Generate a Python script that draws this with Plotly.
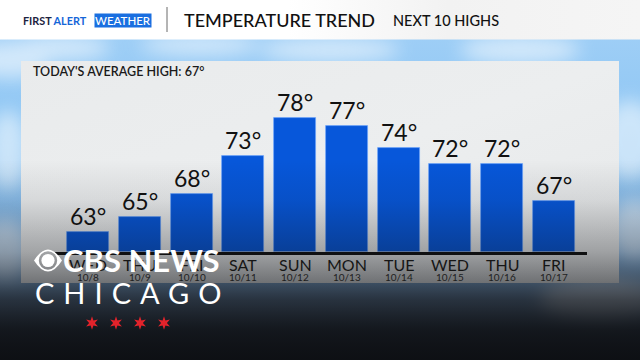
import math
import base64
import plotly.graph_objects as go

# ---------------- data ----------------
days = ["WED", "THU", "FRI", "SAT", "SUN", "MON", "TUE", "WED", "THU", "FRI"]
dates = ["10/8", "10/9", "10/10", "10/11", "10/12", "10/13", "10/14", "10/15", "10/16", "10/17"]
highs = [63, 65, 68, 73, 78, 77, 74, 72, 72, 67]
avg_high = 67
title = "TEMPERATURE TREND"
subtitle = "NEXT 10 HIGHS"

W, H = 640, 360
FONT = "Lato"

def py(p):  # pixel y (from top) -> paper y
    return 1 - p / H

def px(p):
    return p / W

# ---------------- background svg (sky, header, panel) ----------------
clouds = [
    (10, 60, 40, 18), (60, 48, 50, 12), (200, 45, 60, 10), (330, 50, 70, 12),
    (520, 50, 60, 14), (630, 140, 30, 40), (635, 230, 25, 30), (8, 150, 20, 40),
    (5, 250, 25, 30), (600, 300, 60, 20),
]
cloud_svg = "".join(
    f'<ellipse cx="{cx}" cy="{cy}" rx="{rx}" ry="{ry}"/>' for cx, cy, rx, ry in clouds
)
bg_svg = f'''<svg xmlns="http://www.w3.org/2000/svg" width="{W}" height="{H}" viewBox="0 0 {W} {H}">
<defs>
<linearGradient id="sky" x1="0" y1="0" x2="0" y2="1">
<stop offset="0" stop-color="#a4d1f7"/>
<stop offset="0.4" stop-color="#8cc5f3"/>
<stop offset="0.7" stop-color="#82b3e2"/>
<stop offset="0.85" stop-color="#6d8bab"/>
<stop offset="1" stop-color="#3c4650"/>
</linearGradient>
<filter id="blur" x="-60%" y="-60%" width="220%" height="220%"><feGaussianBlur stdDeviation="9"/></filter>
<linearGradient id="hdr" x1="0" y1="0" x2="1" y2="0">
<stop offset="0" stop-color="#ffffff"/>
<stop offset="0.45" stop-color="#ffffff"/>
<stop offset="0.7" stop-color="#f2f2f2"/>
<stop offset="1" stop-color="#f5f5f5"/>
</linearGradient>
<linearGradient id="panel" x1="0" y1="0" x2="1" y2="1">
<stop offset="0" stop-color="#e9ebec"/>
<stop offset="0.5" stop-color="#eceeef"/>
<stop offset="1" stop-color="#e6e8e9"/>
</linearGradient>
</defs>
<rect x="0" y="0" width="{W}" height="{H}" fill="url(#sky)"/>
<g filter="url(#blur)" fill="#ffffff" opacity="0.55">{cloud_svg}</g>
<rect x="0" y="0" width="{W}" height="39.5" fill="url(#hdr)"/>
<rect x="21" y="61" width="598" height="222" fill="url(#panel)"/>
</svg>'''

# ---------------- overlay svg (bottom darkening, eye logo, stars) ----------------
def star(cx, cy, ro, ri, n=6):
    pts = []
    for k in range(2 * n):
        r = ro if k % 2 == 0 else ri
        a = -math.pi / 2 + k * math.pi / n
        pts.append(f"{cx + r * math.cos(a):.2f},{cy + r * math.sin(a):.2f}")
    return f'<polygon points="{" ".join(pts)}" fill="#e3232b"/>'

stars_svg = "".join(star(cx, 323, 6.8, 2.9) for cx in (92, 116, 140, 164))
ecx, ecy = 48, 260.5
eye_svg = (
    f'<path fill="#ffffff" fill-rule="evenodd" d="M{ecx-14},{ecy} '
    f'Q{ecx},{ecy-22} {ecx+14},{ecy} Q{ecx},{ecy+22} {ecx-14},{ecy} Z '
    f'M{ecx+9.2},{ecy} a9.2,9.2 0 1,0 -18.4,0 a9.2,9.2 0 1,0 18.4,0 Z"/>'
    f'<circle cx="{ecx}" cy="{ecy}" r="6.6" fill="#ffffff"/>'
)
ov_svg = f'''<svg xmlns="http://www.w3.org/2000/svg" width="{W}" height="{H}" viewBox="0 0 {W} {H}">
<defs>
<linearGradient id="dark" x1="0" y1="0" x2="0" y2="1">
<stop offset="0" stop-color="#0c0e12" stop-opacity="0"/>
<stop offset="0.2" stop-color="#0c0e12" stop-opacity="0.09"/>
<stop offset="0.46" stop-color="#0c0e12" stop-opacity="0.33"/>
<stop offset="0.615" stop-color="#0c0e12" stop-opacity="0.55"/>
<stop offset="0.7" stop-color="#0c0e12" stop-opacity="0.72"/>
<stop offset="0.85" stop-color="#0c0e12" stop-opacity="0.9"/>
<stop offset="1" stop-color="#0c0e12" stop-opacity="0.97"/>
</linearGradient>
</defs>
<rect x="0" y="160" width="{W}" height="200" fill="url(#dark)"/>
{eye_svg}
{stars_svg}
</svg>'''

def uri(svg):
    return "data:image/svg+xml;base64," + base64.b64encode(svg.encode()).decode()

# ---------------- figure ----------------
xs = list(range(len(highs)))
fig = go.Figure()
fig.add_trace(go.Bar(
    x=xs, y=highs, width=0.81,
    marker=dict(color="#0757da", line=dict(color="rgba(110,165,255,0.8)", width=0.8)),
    hoverinfo="skip",
))

annotations = []
for i, v in enumerate(highs):
    annotations.append(dict(x=i, y=v, xref="x", yref="y", text=f"{v}°", showarrow=False,
                            xanchor="center", yanchor="bottom", yshift=0,
                            font=dict(family=FONT, size=23, color="#111111")))
for i, (d, dt) in enumerate(zip(days, dates)):
    annotations.append(dict(x=i, y=py(264.5), xref="x", yref="paper", text=d, showarrow=False,
                            xanchor="center", yanchor="middle",
                            font=dict(family=FONT, size=16, color="#161616")))
    annotations.append(dict(x=i, y=py(276.5), xref="x", yref="paper", text=dt, showarrow=False,
                            xanchor="center", yanchor="middle",
                            font=dict(family=FONT, size=10, color="#1e1e1e")))

# header texts
annotations += [
    dict(x=px(21), y=py(20), xref="paper", yref="paper", xanchor="left", yanchor="middle",
         showarrow=False,
         text="<b><span style='color:#1c2340'>FIRST</span> <span style='color:#1566d8'>ALERT</span></b>",
         font=dict(family=FONT, size=10.8)),
    dict(x=px(94), y=py(20), xref="paper", yref="paper", xanchor="left", yanchor="middle",
         showarrow=False, text="WEATHER", bgcolor="#1a6fe0", borderpad=0,
         font=dict(family=FONT, size=11.5, color="#ffffff", weight=500)),
    dict(x=px(182), y=py(20), xref="paper", yref="paper", xanchor="left", yanchor="middle",
         showarrow=False, text=title,
         font=dict(family=FONT, size=18, color="#111111", weight=500)),
    dict(x=px(391), y=py(20), xref="paper", yref="paper", xanchor="left", yanchor="middle",
         showarrow=False, text=subtitle,
         font=dict(family=FONT, size=14.5, color="#111111", weight=500)),
    dict(x=px(31), y=py(72), xref="paper", yref="paper", xanchor="left", yanchor="middle",
         showarrow=False, text=f"TODAY'S AVERAGE HIGH: {avg_high}°",
         font=dict(family=FONT, size=12.5, color="#1a1a1a", weight=600)),
    # CBS NEWS CHICAGO branding
    dict(x=px(61), y=py(260), xref="paper", yref="paper", xanchor="left", yanchor="middle",
         showarrow=False, text="<b>CBS NEWS</b>",
         font=dict(family=FONT, size=31, color="#ffffff", weight=900)),
    dict(x=px(33), y=py(292), xref="paper", yref="paper", xanchor="left", yanchor="middle",
         showarrow=False, text="<span style='letter-spacing:9px'>CHICAGO</span>",
         font=dict(family=FONT, size=29, color="#ffffff", weight=400)),
]

fig.update_layout(
    width=W, height=H,
    margin=dict(l=0, r=0, t=0, b=0),
    paper_bgcolor="#0e1013",
    plot_bgcolor="rgba(0,0,0,0)",
    showlegend=False,
    bargap=0,
    xaxis=dict(domain=[px(55), px(587)], range=[-0.637, 9.637], showgrid=False,
               zeroline=False, showticklabels=False, ticks="", showline=True,
               linecolor="#111111", linewidth=3, fixedrange=True),
    yaxis=dict(domain=[py(251.5), py(80)], range=[60.4, 83.01], showgrid=False,
               zeroline=False, showticklabels=False, ticks="", showline=False,
               fixedrange=True),
    images=[
        dict(source=uri(bg_svg), xref="paper", yref="paper", x=0, y=1, sizex=1, sizey=1,
             xanchor="left", yanchor="top", sizing="stretch", layer="below"),
        dict(source=uri(ov_svg), xref="paper", yref="paper", x=0, y=1, sizex=1, sizey=1,
             xanchor="left", yanchor="top", sizing="stretch", layer="above"),
    ],
    shapes=[dict(type="line", xref="paper", yref="paper", x0=px(167), x1=px(167),
                 y0=py(7), y1=py(32), line=dict(color="#6a6a6a", width=1))],
    annotations=annotations,
)

fig.write_html("out.html", config={"displayModeBar": False})
